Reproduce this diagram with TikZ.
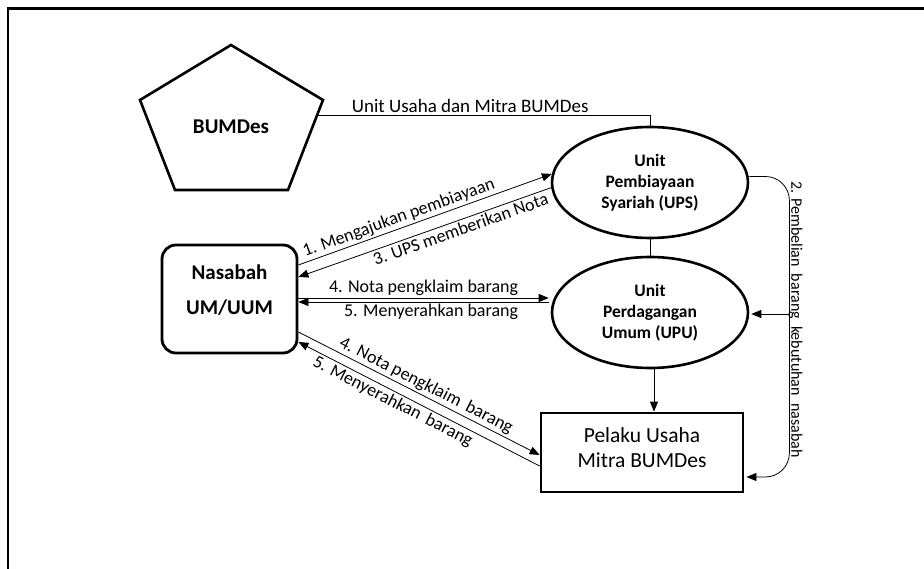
\documentclass[tikz,border=0pt]{standalone}
\usepackage{fontspec}
\setmainfont{Carlito}
\usetikzlibrary{shapes.geometric,arrows.meta,calc}
\begin{document}
\begin{tikzpicture}[x=1pt,y=-1pt,
  lbl/.style={font=\fontsize{18}{21}\selectfont, inner sep=2pt},
  ell/.style={draw, ellipse, line width=2.6pt, minimum width=196pt, minimum height=111pt, inner sep=0pt, align=center, font=\bfseries\fontsize{17.5}{21}\selectfont},
  boxthick/.style={draw, line width=2.8pt},
  conn/.style={line width=0.8pt},
  arr/.style={conn, -{Triangle[length=10pt,width=8pt]}},
]
\useasboundingbox (0,0) rectangle (924,569);
% frame
\draw[line width=2.2pt] (8,569) -- (8,8.5) -- (924,8.5);
% BUMDes pentagon
\draw[line width=2.6pt, line join=miter] (231,45) -- (323,100) -- (288,190) -- (175,190) -- (140,100) -- cycle;
\node[font=\bfseries\fontsize{21}{25}\selectfont] (bumdes) at (231,127) {BUMDes};
\coordinate (bumdesR) at (317,115);
% units
\node[ell] (ups) at (650,182.5) {Unit\\Pembiayaan\\Syariah (UPS)};
\node[ell] (upu) at (650,312.5) {Unit\\Perdagangan\\Umum (UPU)};
% Nasabah
\node[boxthick, rounded corners=14pt, minimum width=135pt, minimum height=108pt] (nasabah) at (229.5,299) {};
\node[font=\bfseries\fontsize{21}{25}\selectfont, align=center] (nasabahtxt) at (229.5,290) {Nasabah\\[10pt]UM/UUM};
% Pelaku
\node[boxthick, minimum width=202pt, minimum height=79pt] (pelaku) at (642,452.5) {};
\node[font=\fontsize{21.5}{25}\selectfont, align=center] (pelakutxt) at (642,447.5) {Pelaku Usaha\\Mitra BUMDes};
% connectors
\draw[conn] (bumdesR) -| (ups.north) node[pos=0.23, above, lbl, font=\fontsize{19}{22}\selectfont] {Unit Usaha dan Mitra BUMDes};
\draw[conn] (ups.south) -- (upu.north);
\draw[arr] ($(upu.south)+(4,0)$) -- ($(upu.south |- pelaku.north)+(4,0)$);
\draw[arr] ($(nasabah.east)+(0,-34)$) -- (ups.175.6) node[pos=0.41, sloped, above, lbl] {1. Mengajukan pembiayaan};
\draw[arr] (ups.183.2) -- ($(nasabah.east)+(0,-22)$) node[pos=0.37, sloped, below, lbl] {3. UPS memberikan Nota};
\draw[arr] ($(nasabah.east)+(0,-1)$) -- ($(upu.west)+(-2,-14.5)$) node[midway, above, lbl] {4. Nota pengklaim barang};
\draw[arr] ($(upu.west)+(-2,-10.5)$) -- ($(nasabah.east)+(0,3)$) node[pos=0.47, below, lbl] {5. Menyerahkan barang};
\draw[arr] ($(nasabah.east)+(0,33)$) -- ($(pelaku.west)+(0,2.5)$) node[pos=0.51, sloped, above, lbl] {4. Nota pengklaim\ \,barang};
\draw[arr] ($(pelaku.west)+(0,13.5)$) -- ($(nasabah.east)+(0,43)$) node[pos=0.59, sloped, below, lbl] {5. Menyerahkan\ \,barang};
% right connector
\coordinate (c2) at ($(pelaku.east)+(45,24.5)$);
\draw[arr, rounded corners=24pt] ($(ups.east)+(0,-6)$) -| (c2) -- ($(pelaku.east)+(2,24.5)$);
\draw[arr] ($(c2 |- upu.east)+(0,1.5)$) -- ($(upu.east)+(2,1.5)$);
\node[rotate=-90, anchor=base, inner sep=0pt, font=\fontsize{16}{19}\selectfont] (lbl2) at ($(c2 |- upu.east)+(2,7)$) {2. Pembelian\ \ barang\ \ kebutuhan\ \ nasabah};
\end{tikzpicture}
\end{document}
